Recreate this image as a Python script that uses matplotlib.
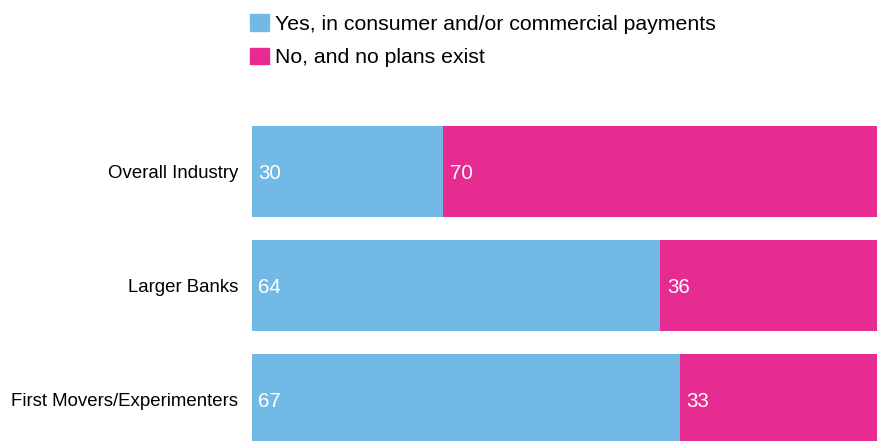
import matplotlib
matplotlib.use("Agg")
import matplotlib.pyplot as plt
from matplotlib.patches import Patch

plt.rcParams["font.family"] = ["Liberation Sans", "DejaVu Sans"]

categories = ["Overall Industry", "Larger Banks", "First Movers/Experimenters"]
yes_vals = [30, 64, 67]
no_vals = [70, 36, 33]
series_labels = ["Yes, in consumer and/or commercial payments", "No, and no plans exist"]

BLUE = "#73b9e6"
PINK = "#e62c90"

W, H = 877, 441
fig = plt.figure(figsize=(W / 100, H / 100), dpi=100)
# axes run a bit past the right and bottom edge, like the original crop
left, right = 251.5 / W, 890.5 / W
top, bottom = 1 - 114.5 / H, 1 - 456.5 / H
ax = fig.add_axes([left, bottom, right - left, top - bottom])

y = list(range(len(categories)))
ax.barh(y, yes_vals, height=0.8, color=BLUE, label=series_labels[0])
ax.barh(y, no_vals, left=yes_vals, height=0.8, color=PINK, label=series_labels[1])

for i, (a, b) in enumerate(zip(yes_vals, no_vals)):
    ax.text(1, i, str(a), color="white", fontsize=14.8, va="center_baseline", ha="left")
    ax.text(a + 1, i, str(b), color="white", fontsize=14.8, va="center_baseline", ha="left")

ax.set_xlim(0, 100)
ax.set_ylim(2.5, -0.5)
ax.set_yticks(y)
ax.set_yticklabels(categories, fontsize=13.4)
for lab in ax.get_yticklabels():
    lab.set_verticalalignment("center_baseline")
ax.tick_params(axis="y", length=0, pad=9.5)
ax.set_xticks([])
for s in ax.spines.values():
    s.set_visible(False)

handles = [Patch(color=BLUE), Patch(color=PINK)]
fig.legend(handles, series_labels, loc="upper left",
           bbox_to_anchor=(242 / W, 1 - 6 / H), frameon=False,
           fontsize=15.3, handlelength=0.85, handleheight=0.85,
           handletextpad=0.3, labelspacing=0.62, borderaxespad=0)

fig.savefig("out.png", dpi=100)
